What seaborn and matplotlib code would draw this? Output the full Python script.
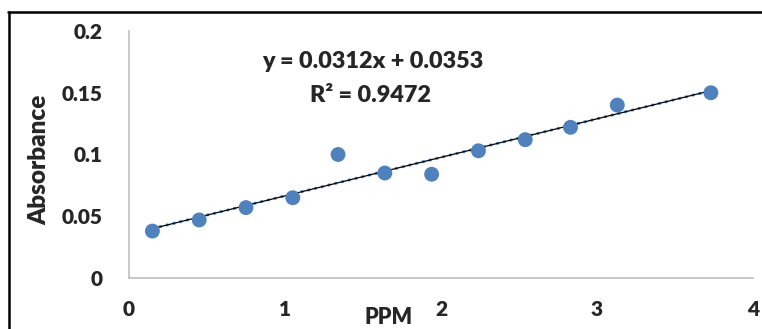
import numpy as np
import pandas as pd
import matplotlib
matplotlib.use("Agg")
import matplotlib.pyplot as plt
from matplotlib.lines import Line2D
import seaborn as sns

ppm = [0.15, 0.45, 0.75, 1.05, 1.34, 1.64, 1.94, 2.24, 2.54, 2.83, 3.13, 3.73]
absorbance = [0.038, 0.047, 0.057, 0.065, 0.100, 0.085, 0.084, 0.103, 0.112, 0.122, 0.140, 0.150]
slope = 0.0312
intercept = 0.0353
r2 = 0.9472
x_ticks = [0, 1, 2, 3, 4]
y_ticks = [0, 0.05, 0.1, 0.15, 0.2]
y_tick_labels = ["0", "0.05", "0.1", "0.15", "0.2"]

sns.set_style("white")
plt.rcParams['font.family'] = ['Lato', 'DejaVu Sans']
W = "heavy"

df = pd.DataFrame({"PPM": ppm, "Absorbance": absorbance})

fig = plt.figure(figsize=(7.62, 3.29), dpi=100)
ax = fig.add_axes([129/762, 1-278/329, (753-129)/762, (278-31)/329])

xs = np.array([min(ppm), max(ppm)])
ys = slope * xs + intercept
ax.plot(xs, ys, color="#4F81BD", lw=2.0, ls=(0, (1, 1.5)), zorder=2)
ax.plot(xs, ys, color="black", lw=0.9, zorder=3)
sns.scatterplot(data=df, x="PPM", y="Absorbance", ax=ax, color="#4F81BD",
                s=115, edgecolor="none", zorder=4)

ax.set_xlim(0, 4)
ax.set_ylim(0, 0.2)
ax.set_xticks(x_ticks)
ax.set_xticklabels([str(t) for t in x_ticks])
ax.set_yticks(y_ticks)
ax.set_yticklabels(y_tick_labels)

for s in ["top", "right"]:
    ax.spines[s].set_visible(False)
for s in ["left", "bottom"]:
    ax.spines[s].set_color("#BFBFBF")
    ax.spines[s].set_linewidth(1.2)
ax.tick_params(axis="both", which="major", length=5, width=1.2, color="#BFBFBF",
               direction="out", labelsize=15)
ax.tick_params(axis="x", pad=11)
ax.tick_params(axis="y", pad=14)
for lab in ax.get_xticklabels() + ax.get_yticklabels():
    lab.set_fontweight(W)

ax.set_xlabel("PPM", fontsize=15.5, fontweight=W)
ax.set_ylabel("Absorbance", fontsize=17.5, fontweight=W)
ax.xaxis.set_label_coords((389-129)/624, -(318-278)/247)
ax.yaxis.set_label_coords(-(129-39)/624, (278-160)/247)
ax.xaxis.label.set_va("center")
ax.yaxis.label.set_va("center")

ax.text((373-129)/624, (278-62)/247, f"y = {slope}x + {intercept}", transform=ax.transAxes,
        ha="center", va="center", fontsize=16.8, fontweight=W)
ax.text((371-129)/624, (278-95)/247, f"R² = {r2}", transform=ax.transAxes,
        ha="center", va="center", fontsize=16.8, fontweight=W)

fig.add_artist(Line2D([8/762, 1.0], [1-12/329, 1-12/329], color="black", lw=1.8,
                      transform=fig.transFigure))
fig.add_artist(Line2D([8.5/762, 8.5/762], [0, 1-12/329], color="black", lw=1.8,
                      transform=fig.transFigure))

fig.savefig("out.png", dpi=100)
